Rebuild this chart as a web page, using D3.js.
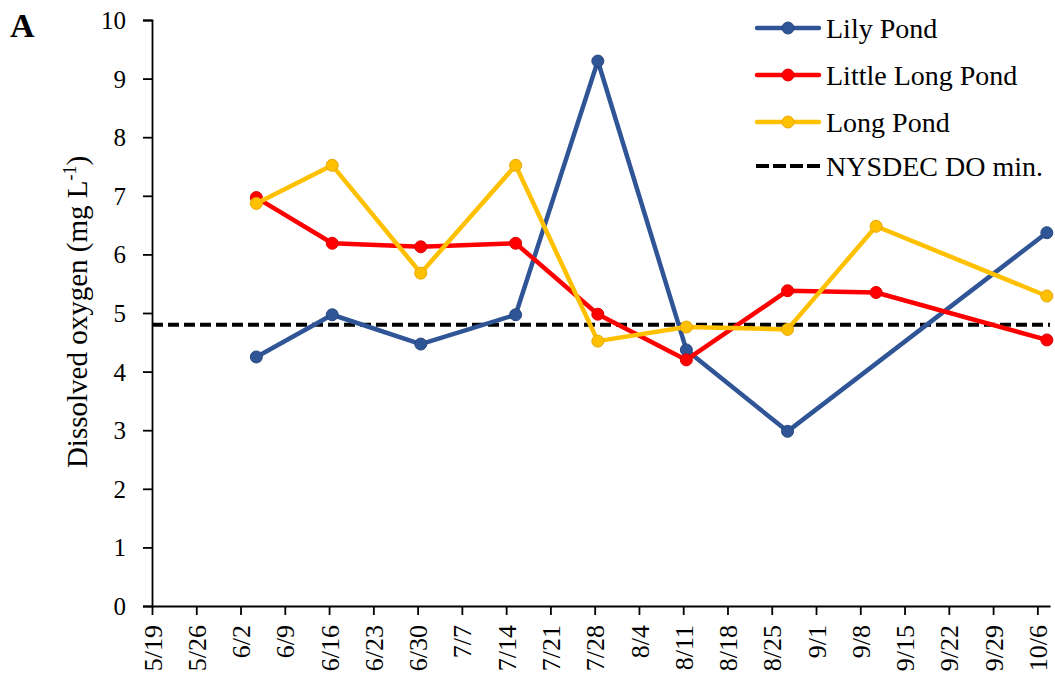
<!DOCTYPE html>
<html>
<head>
<meta charset="utf-8">
<script src="https://cdn.jsdelivr.net/npm/d3@7"></script>
<style>
  html, body { margin: 0; padding: 0; background: #fff; }
  svg { display: block; font-family: "Liberation Serif", "Times New Roman", serif; }
</style>
</head>
<body>
<svg id="chart" width="1055" height="679"></svg>
<script>
// Sampling dates (month/day) and dissolved oxygen readings, mg/L
const lilyDates = ["6/4", "6/16", "6/30", "7/15", "7/28", "8/11", "8/27", "10/7"];
const lilyValues = [4.25, 4.97, 4.47, 4.97, 9.30, 4.37, 2.98, 6.37];

const littleLongDates = ["6/4", "6/16", "6/30", "7/15", "7/28", "8/11", "8/27", "9/10", "10/7"];
const littleLongValues = [6.97, 6.19, 6.13, 6.19, 4.98, 4.20, 5.38, 5.35, 4.54];

const longDates = ["6/4", "6/16", "6/30", "7/15", "7/28", "8/11", "8/27", "9/10", "10/7"];
const longValues = [6.87, 7.52, 5.68, 7.52, 4.52, 4.76, 4.72, 6.48, 5.29];

const doMinimum = 4.8;

const xTickLabels = ["5/19", "5/26", "6/2", "6/9", "6/16", "6/23", "6/30", "7/7", "7/14", "7/21",
  "7/28", "8/4", "8/11", "8/18", "8/25", "9/1", "9/8", "9/15", "9/22", "9/29", "10/6"];
const yTicks = [0, 1, 2, 3, 4, 5, 6, 7, 8, 9, 10];

const seriesNames = ["Lily Pond", "Little Long Pond", "Long Pond"];
const legendDashName = "NYSDEC DO min.";

const parseMD = s => { const [m, d] = s.split("/").map(Number); return new Date(2019, m - 1, d); };
// samples sit in the middle of their day on the time axis
const sampleTime = s => d3.timeHour.offset(parseMD(s), 12);

const series = [
  { name: seriesNames[0], dates: lilyDates, values: lilyValues, color: "#2F5597", edge: "#27487F" },
  { name: seriesNames[1], dates: littleLongDates, values: littleLongValues, color: "#FF0000", edge: "#E00000" },
  { name: seriesNames[2], dates: longDates, values: longValues, color: "#FFC000", edge: "#E6A800" }
];

const svg = d3.select("#chart");
const plotLeft = 152, plotRight = 1050, plotTop = 20, plotBottom = 606;
const serif = "Liberation Serif";

const xStart = parseMD("5/19");
const xEnd = d3.timeDay.offset(xStart, 142);
const x = d3.scaleTime().domain([xStart, xEnd]).range([plotLeft, plotRight]);
const y = d3.scaleLinear().domain([0, 10]).range([plotBottom, plotTop]);

// Y axis
const yAxis = d3.axisLeft(y).tickValues(yTicks).tickSize(9).tickPadding(17).tickFormat(d3.format("d"));
const gy = svg.append("g").attr("transform", `translate(${plotLeft},0)`).call(yAxis);
gy.attr("font-family", serif);
gy.select(".domain").attr("stroke", "#000").attr("stroke-width", 1.8);
gy.selectAll(".tick line").attr("stroke", "#000").attr("stroke-width", 1.8);
gy.selectAll(".tick text").attr("font-size", 25).attr("fill", "#000").attr("dy", "0.34em");

// X axis (weekly ticks)
const xTickDates = xTickLabels.map(parseMD);
const xAxis = d3.axisBottom(x).tickValues(xTickDates).tickSize(9).tickSizeOuter(0)
  .tickFormat((d, i) => xTickLabels[i]);
const gx = svg.append("g").attr("transform", `translate(0,${plotBottom})`).call(xAxis);
gx.attr("font-family", serif);
gx.select(".domain").attr("stroke", "#000").attr("stroke-width", 1.8);
gx.selectAll(".tick line").attr("stroke", "#000").attr("stroke-width", 1.8);
gx.selectAll(".tick text")
  .attr("font-size", 26).attr("fill", "#000")
  .attr("transform", "rotate(-90)")
  .attr("text-anchor", "end")
  .attr("x", -19).attr("y", 0).attr("dy", "0.35em");

// Y axis title
const yTitle = svg.append("text")
  .attr("transform", `translate(87,312) rotate(-90)`)
  .attr("text-anchor", "middle").attr("font-size", 29).attr("fill", "#000");
yTitle.append("tspan").text("Dissolved oxygen (mg L");
yTitle.append("tspan").attr("dy", -11).attr("font-size", 18).text("-1");
yTitle.append("tspan").attr("dy", 11).text(")");

// Panel letter
svg.append("text").attr("x", 10).attr("y", 37).attr("font-size", 34).attr("font-weight", "bold")
  .attr("fill", "#000").text("A");

// Threshold line
svg.append("line")
  .attr("x1", plotLeft).attr("x2", plotRight)
  .attr("y1", y(doMinimum)).attr("y2", y(doMinimum))
  .attr("stroke", "#000").attr("stroke-width", 4).attr("stroke-dasharray", "11,5");

// Series lines and markers
const line = d3.line().x(d => x(d.date)).y(d => y(d.value));
series.forEach(s => {
  const pts = s.dates.map((d, i) => ({ date: sampleTime(d), value: s.values[i] }));
  const g = svg.append("g");
  g.append("path").datum(pts).attr("d", line)
    .attr("fill", "none").attr("stroke", s.color).attr("stroke-width", 4.5)
    .attr("stroke-linejoin", "round");
  g.selectAll("circle").data(pts).join("circle")
    .attr("cx", d => x(d.date)).attr("cy", d => y(d.value)).attr("r", 6)
    .attr("fill", s.color).attr("stroke", s.edge).attr("stroke-width", 1);
});

// Legend
const legend = svg.append("g");
const legendRows = [28, 75, 122, 166];
series.forEach((s, i) => {
  const ly = legendRows[i];
  legend.append("line").attr("x1", 757).attr("x2", 819).attr("y1", ly).attr("y2", ly)
    .attr("stroke", s.color).attr("stroke-width", 4.5).attr("stroke-linecap", "round");
  legend.append("circle").attr("cx", 788).attr("cy", ly).attr("r", 6)
    .attr("fill", s.color).attr("stroke", s.edge).attr("stroke-width", 1);
  legend.append("text").attr("x", 826).attr("y", ly).attr("dy", "0.35em")
    .attr("font-size", 28).attr("fill", "#000").text(s.name);
});
legend.append("line").attr("x1", 756).attr("x2", 820)
  .attr("y1", legendRows[3]).attr("y2", legendRows[3])
  .attr("stroke", "#000").attr("stroke-width", 4).attr("stroke-dasharray", "13,4");
legend.append("text").attr("x", 826).attr("y", legendRows[3]).attr("dy", "0.35em")
  .attr("font-size", 28).attr("fill", "#000").text(legendDashName);
</script>
</body>
</html>
